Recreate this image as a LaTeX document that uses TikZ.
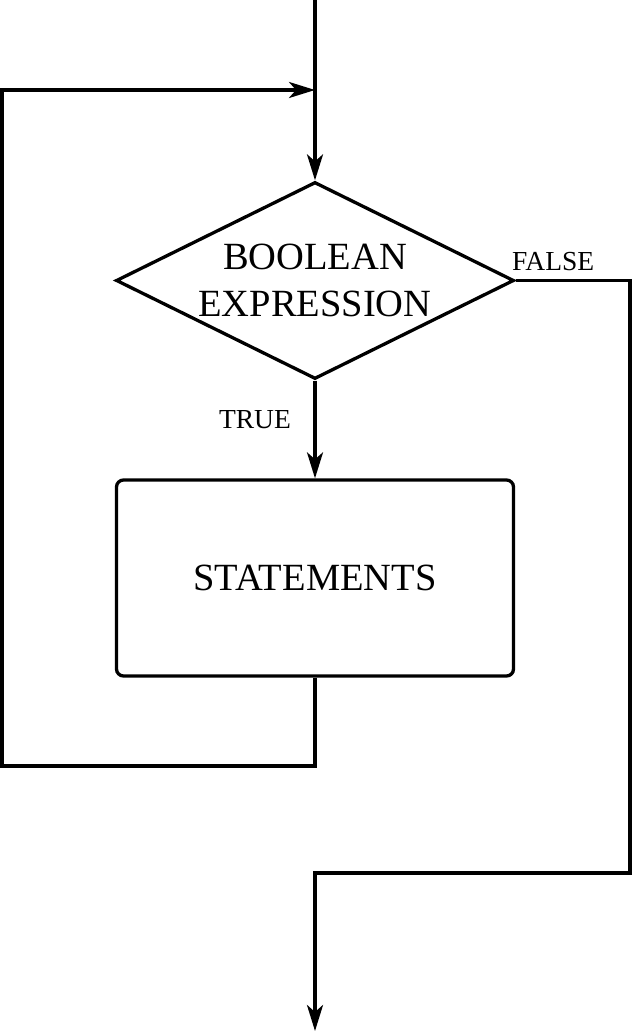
\documentclass[tikz,border=0pt]{standalone}
\usepackage{fontspec}
\setmainfont{Liberation Serif}
\usetikzlibrary{shapes.geometric,arrows.meta}
\begin{document}
\begin{tikzpicture}[x=1pt,y=-1pt,
  flow/.style={line width=3.3pt},
  tip/.style={-{Stealth[length=26pt,width=16pt,inset=7pt]}},
  bigtext/.style={font=\fontsize{38.5}{47}\selectfont},
  smalltext/.style={font=\fontsize{27.5}{30}\selectfont, inner sep=0pt},
  decision/.style={diamond, draw, flow, aspect=2, minimum width=398pt,
    minimum height=197pt, inner sep=0pt, align=center, bigtext},
  process/.style={rectangle, draw, flow, rounded corners=7pt,
    minimum width=397pt, minimum height=196pt, bigtext}]
\useasboundingbox (0,0) rectangle (632,1032);

% entry, merge point and exit
\coordinate (start) at (315,0);
\coordinate (join) at (315,90);
\coordinate (exit) at (315,1031);

% loop condition and body
\node[decision] (cond) at (315,280.5) {BOOLEAN\\EXPRESSION};
\node[process] (body) at (315,578) {STATEMENTS};

% corners of the back edge and of the exit path
\coordinate (backB) at (2,766);
\coordinate (backT) at (2,90);
\coordinate (farR) at (630,280.5);
\coordinate (farB) at (630,873);

% branch labels
\node[smalltext, anchor=base west] (falselbl) at (512,270) {FALSE};
\node[smalltext, anchor=base] (truelbl) at (255,428) {TRUE};

% connectors
\draw[flow,tip] (start) -- (cond.north);
\draw[flow,tip] (cond.south) -- (body.north);
\draw[flow,tip] (body.south) |- (backB) -- (backT) -- (join);
\draw[flow,tip] (cond.east) -- (farR) -- (farB) -| (exit);
\end{tikzpicture}
\end{document}
